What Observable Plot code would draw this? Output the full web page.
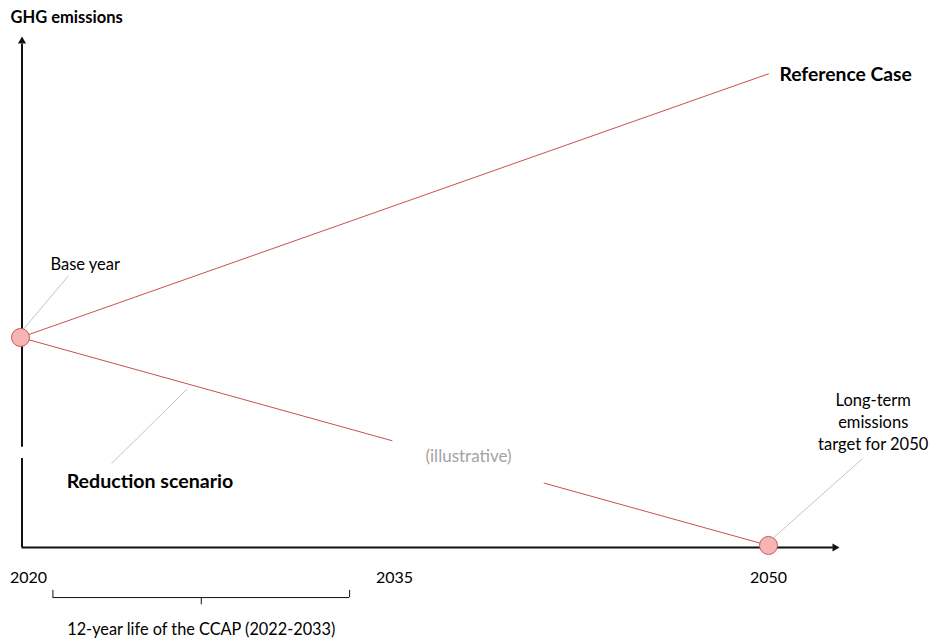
<!DOCTYPE html>
<html>
<head>
<meta charset="utf-8">
<script src="https://cdn.jsdelivr.net/npm/d3@7"></script>
<script src="https://cdn.jsdelivr.net/npm/@observablehq/plot@0.6"></script>
<style>
  html, body { margin: 0; padding: 0; background: #fff; }
  #chart svg { display: block; }
</style>
</head>
<body>
<div id="chart"></div>
<script>
// ---- data (emissions in arbitrary index units) ----
const years = [2020, 2035, 2050];
const tickLabels = ["2020", "2035", "2050"];
const referenceCase = [[2020, 41.1], [2050, 92.7]];
const reductionPartA = [[2020, 41.1], [2034.9, 20.9]];
const reductionPartB = [[2041.0, 12.6], [2050, 0.4]];
const keyPoints = [[2020, 41.1], [2050, 0.4]];
const ccapStart = 2021.3;
const ccapEnd = 2033.2;
const ccapLabel = "12-year life of the CCAP (2022-2033)";

const toObj = arr => arr.map(([x, y]) => ({x, y}));
const ticks = years.map((y, i) => ({x: y, label: tickLabels[i]}));

const red = "#c9504f";
const leader = "#c4c4c4";
const font = "Lato, 'Open Sans', sans-serif";

const chart = Plot.plot({
  width: 937,
  height: 643,
  marginLeft: 20,
  marginRight: 169,
  marginTop: 36,
  marginBottom: 96,
  x: {domain: [2020, 2050], axis: null},
  y: {domain: [0, 100], axis: null},
  style: {fontFamily: font, background: "#fff", color: "#000"},
  marks: [
    // axes
    Plot.ruleY([0], {x1: 2020.06, x2: 2052.6, stroke: "#111", strokeWidth: 2}),
    Plot.ruleX([2020.06], {y1: 0, y2: 17.4, stroke: "#111", strokeWidth: 2}),
    Plot.ruleX([2020.06], {y1: 19.6, y2: 98.5, stroke: "#111", strokeWidth: 2}),
    Plot.dot([[2020.06, 99.1]], {x: d => d[0], y: d => d[1], symbol: "triangle", r: 3, fill: "#111", stroke: null}),
    Plot.dot([[2052.66, 0]], {x: d => d[0], y: d => d[1], symbol: "triangle", r: 3, fill: "#111", stroke: null, rotate: 90}),
    // leader lines
    Plot.link([{x1: 2020.08, y1: 42.5, x2: 2021.93, y2: 53.2}], {x1: "x1", y1: "y1", x2: "x2", y2: "y2", stroke: leader, strokeWidth: 1}),
    Plot.link([{x1: 2026.7, y1: 31.1, x2: 2023.65, y2: 16.4}], {x1: "x1", y1: "y1", x2: "x2", y2: "y2", stroke: leader, strokeWidth: 1}),
    Plot.link([{x1: 2050.2, y1: 1.9, x2: 2053.77, y2: 17.4}], {x1: "x1", y1: "y1", x2: "x2", y2: "y2", stroke: leader, strokeWidth: 1}),
    // series
    Plot.line(toObj(referenceCase), {x: "x", y: "y", stroke: red, strokeWidth: 1}),
    Plot.line(toObj(reductionPartA), {x: "x", y: "y", stroke: red, strokeWidth: 1}),
    Plot.line(toObj(reductionPartB), {x: "x", y: "y", stroke: red, strokeWidth: 1}),
    Plot.dot(toObj(keyPoints), {x: "x", y: "y", r: 9, fill: "#f7b4b4", stroke: "#c75a5a", strokeWidth: 1}),
    // tick labels
    Plot.text(ticks.slice(0, 1), {x: "x", y: -5.9, text: "label", fontSize: 16, fill: "#000", dx: 8}),
    Plot.text(ticks.slice(1), {x: "x", y: -5.9, text: "label", fontSize: 16, fill: "#000"}),
    // brace
    Plot.ruleY([-9.8], {x1: ccapStart, x2: ccapEnd, stroke: "#111", strokeWidth: 1}),
    Plot.ruleX([ccapStart, ccapEnd], {y1: -9.8, y2: -8.4, stroke: "#111", strokeWidth: 1}),
    Plot.ruleX([(ccapStart + ccapEnd) / 2], {y1: -9.8, y2: -11.2, stroke: "#111", strokeWidth: 1}),
    Plot.text([ccapLabel], {x: (ccapStart + ccapEnd) / 2, y: -16.05, text: d => d, fontSize: 16.3, fill: "#000"}),
    // annotations
    Plot.text(["GHG emissions"], {x: 2019.6, y: 103.7, text: d => d, textAnchor: "start", fontSize: 16.5, fontWeight: "bold", fill: "#000"}),
    Plot.text(["Base year"], {x: 2021.2, y: 55.4, text: d => d, textAnchor: "start", fontSize: 16.5, fill: "#000"}),
    Plot.text(["Reference Case"], {x: 2050.44, y: 92.6, text: d => d, textAnchor: "start", fontSize: 19.3, fontWeight: "bold", fill: "#000"}),
    Plot.text(["Reduction scenario"], {x: 2021.85, y: 12.9, text: d => d, textAnchor: "start", fontSize: 19.6, fontWeight: "bold", fill: "#000"}),
    Plot.text(["(illustrative)"], {x: 2037.97, y: 17.8, text: d => d, fontSize: 17, fill: "#a3a3a3"}),
    Plot.text(["Long-term\nemissions\ntarget for 2050"], {x: 2054.2, y: 24.7, text: d => d, fontSize: 16.5, lineHeight: 1.33, fill: "#000"})
  ]
});

document.getElementById("chart").appendChild(chart);
</script>
</body>
</html>
